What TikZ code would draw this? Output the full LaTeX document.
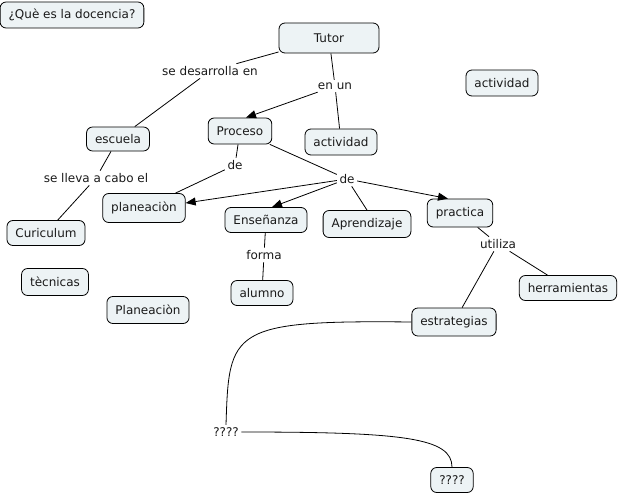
\documentclass[tikz,border=0pt]{standalone}
\usepackage{fontspec}
\setmainfont{DejaVu Sans}
\usepackage{xcolor}
\usetikzlibrary{arrows.meta}
\usetikzlibrary{positioning}
\definecolor{cmapfill}{HTML}{EDF3F5}
\definecolor{cmaptext}{HTML}{1A1A1A}

\begin{document}
\begin{tikzpicture}[x=1pt,y=-1pt,
		every node/.style={font=\fontsize{12pt}{14pt}\selectfont,text=cmaptext},
		concept/.style={draw,fill=cmapfill,rounded corners=6pt,line width=0.8pt,
			inner xsep=8.5pt,minimum height=26pt},
		linkword/.style={inner sep=2.5pt},
		conn/.style={line width=0.8pt},
		arr/.style={conn,-{Triangle[length=10pt,width=8pt]}}]
	\useasboundingbox (0,0) rectangle (619,495);
	% concepts
	\node[concept] (docencia) at (72,15) {¿Què es la docencia?};
	\node[concept,minimum width=100pt,minimum height=30pt] (tutor) at (329,38) {Tutor};
	\node[concept] (act2) at (502,83) {actividad};
	\node[concept,minimum height=24pt] (escuela) at (118,139) {escuela};
	\node[concept] (proceso) at (240,131) {Proceso};
	\node[concept] (act1) at (341,142) {actividad};
	\node[concept,minimum height=29pt] (planeacion) at (144,208) {planeaciòn};
	\node[concept,minimum height=25pt] (ensenanza) at (266,220) {Enseñanza};
	\node[concept,minimum height=27pt] (aprendizaje) at (367,224) {Aprendizaje};
	\node[concept,minimum height=28pt] (practica) at (460,213) {practica};
	\node[concept,minimum height=25pt] (curiculum) at (46,233) {Curiculum};
	\node[concept,minimum height=27pt] (tecnicas) at (55,282) {tècnicas};
	\node[concept,minimum height=27pt] (planeacion2) at (148,310) {Planeaciòn};
	\node[concept,minimum height=25pt] (alumno) at (262,293) {alumno};
	\node[concept,minimum height=28pt] (estrategias) at (454,322) {estrategias};
	\node[concept,minimum height=25pt] (herramientas) at (568,288) {herramientas};
	\node[concept,minimum height=25pt] (q2) at (452,480) {????};
	% linking words
	\node[linkword] (desarrolla) at (210,71) {se desarrolla en};
	\node[linkword] (enun) at (335,86) {en un};
	\node[linkword] (de1) at (235,165) {de};
	\node[linkword] (lleva) at (96,178) {se lleva a cabo el};
	\node[linkword] (de2) at (347,179) {de};
	\node[linkword] (forma) at (264,255) {forma};
	\node[linkword] (utiliza) at (498,244) {utiliza};
	\node[linkword] (q1) at (226,432) {????};
	% connections
	\draw[conn] (tutor) -- (desarrolla);
	\draw[conn] (desarrolla) -- (escuela);
	\draw[conn] (tutor) -- (enun);
	\draw[arr] (enun) -- ([xshift=6pt]proceso.north);
	\draw[conn] (enun) -- (act1);
	\draw[conn] (proceso) -- (de1);
	\draw[conn] (de1) -- (planeacion);
	\draw[conn] (proceso) -- (de2);
	\draw[arr] (de2) -- ([yshift=5pt]planeacion.east);
	\draw[arr] (de2) -- ([xshift=6pt]ensenanza.north);
	\draw[conn] (de2) -- (aprendizaje.north);
	\draw[arr] (de2) -- ([xshift=-12pt]practica.north);
	\draw[conn] (escuela) -- (lleva);
	\draw[conn] (lleva) -- (curiculum);
	\draw[conn] (ensenanza) -- (forma);
	\draw[conn] (forma) -- (alumno);
	\draw[conn] (practica) -- (utiliza);
	\draw[conn] (utiliza) -- (estrategias);
	\draw[conn] (utiliza) -- (herramientas);
	\draw[conn] (estrategias.west) .. controls (230,320) and (229,330) .. (q1.north);
	\draw[conn] (q1.east) .. controls (405,432) and (452,438) .. (q2.north);
\end{tikzpicture}
\end{document}
